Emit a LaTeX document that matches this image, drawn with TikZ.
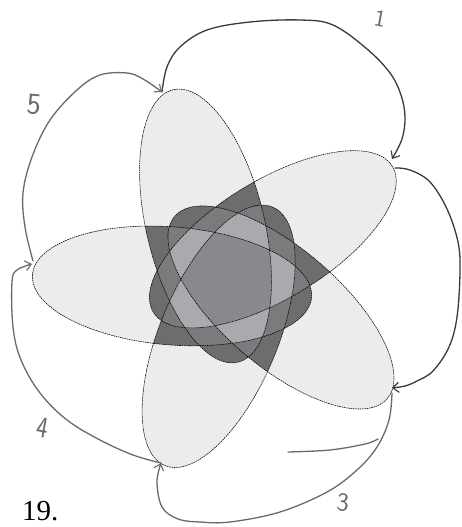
\documentclass[tikz,border=0pt]{standalone}
\usepackage{fontspec}
\setmainfont{Liberation Serif}
\usetikzlibrary{arrows.meta}
\definecolor{cA}{HTML}{ECECEC}
\definecolor{cB}{HTML}{6D6D6D}
\definecolor{cC}{HTML}{7B7B7D}
\definecolor{cD}{HTML}{A9AAAE}
\definecolor{cE}{HTML}{88898C}
\definecolor{penA}{HTML}{3A3A3A}
\definecolor{penB}{HTML}{6A6A6A}
\def\Ra{0}\def\Rb{-72}\def\Rc{-144}\def\Rd{-216}\def\Re{-288}
\newcommand\Eclip[1]{\clip[rotate around={#1:(230,248)}, xshift=205.5pt, yshift=301pt, rotate=103.4] (0,0) ellipse [x radius=140, y radius=59];}
\newcommand\Edraw[1]{\draw[ellline, rotate around={#1:(230,248)}, xshift=205.5pt, yshift=301pt, rotate=103.4] (0,0) ellipse [x radius=140, y radius=59];}
\newcommand\Rg[2]{\begin{scope}#2\fill[#1] (0,0) rectangle (461,527);\end{scope}}
\begin{document}
\begin{tikzpicture}[x=1pt,y=1pt,
  ellline/.style={black, line width=0.55pt, dash pattern=on 1.6pt off 0.7pt},
  arrline/.style={line width=1.3pt, line cap=round, -{Straight Barb[length=6pt,width=10pt,line width=1.1pt]}},
  hand/.style={font=\sffamily\fontsize{30}{30}\selectfont, text=penB, inner sep=0pt}]
\useasboundingbox (0,0) rectangle (461,527);
\fill[white] (0,0) rectangle (461,527);
% shading by number of ellipses
\Rg{cA}{\Eclip\Ra}\Rg{cA}{\Eclip\Rb}\Rg{cA}{\Eclip\Rc}\Rg{cA}{\Eclip\Rd}\Rg{cA}{\Eclip\Re}
\Rg{cB}{\Eclip\Ra\Eclip\Rb}\Rg{cB}{\Eclip\Ra\Eclip\Rc}\Rg{cB}{\Eclip\Ra\Eclip\Rd}\Rg{cB}{\Eclip\Ra\Eclip\Re}
\Rg{cB}{\Eclip\Rb\Eclip\Rc}\Rg{cB}{\Eclip\Rb\Eclip\Rd}\Rg{cB}{\Eclip\Rb\Eclip\Re}
\Rg{cB}{\Eclip\Rc\Eclip\Rd}\Rg{cB}{\Eclip\Rc\Eclip\Re}\Rg{cB}{\Eclip\Rd\Eclip\Re}
\Rg{cC}{\Eclip\Ra\Eclip\Rb\Eclip\Rc}\Rg{cC}{\Eclip\Ra\Eclip\Rb\Eclip\Rd}\Rg{cC}{\Eclip\Ra\Eclip\Rb\Eclip\Re}
\Rg{cC}{\Eclip\Ra\Eclip\Rc\Eclip\Rd}\Rg{cC}{\Eclip\Ra\Eclip\Rc\Eclip\Re}\Rg{cC}{\Eclip\Ra\Eclip\Rd\Eclip\Re}
\Rg{cC}{\Eclip\Rb\Eclip\Rc\Eclip\Rd}\Rg{cC}{\Eclip\Rb\Eclip\Rc\Eclip\Re}\Rg{cC}{\Eclip\Rb\Eclip\Rd\Eclip\Re}
\Rg{cC}{\Eclip\Rc\Eclip\Rd\Eclip\Re}
\Rg{cD}{\Eclip\Ra\Eclip\Rb\Eclip\Rc\Eclip\Rd}\Rg{cD}{\Eclip\Ra\Eclip\Rb\Eclip\Rc\Eclip\Re}
\Rg{cD}{\Eclip\Ra\Eclip\Rb\Eclip\Rd\Eclip\Re}\Rg{cD}{\Eclip\Ra\Eclip\Rc\Eclip\Rd\Eclip\Re}
\Rg{cD}{\Eclip\Rb\Eclip\Rc\Eclip\Rd\Eclip\Re}
\Rg{cE}{\Eclip\Ra\Eclip\Rb\Eclip\Rc\Eclip\Rd\Eclip\Re}
% outlines
\Edraw\Ra \Edraw\Rb \Edraw\Rc \Edraw\Rd \Edraw\Re
% tips
\coordinate (tT) at (162,435);
\coordinate (tR) at (392,368);
\coordinate (tRs) at (395,359);
\coordinate (tLR) at (392,139);
\coordinate (tLRs) at (392,134);
\coordinate (tB) at (161,64);
\coordinate (tL) at (32,263);
\coordinate (tLs) at (33,266);
\coordinate (x3) at (288,75);
\coordinate (j3) at (378,88);
% arrows
\draw[arrline, penA] plot[smooth, tension=0.6] coordinates {(tT) (167,460) (180,480) (207,497) (250,505) (300,507) (333,502) (367,478) (390,454) (401,432) (405,410) (402,388) (tR)};
\draw[arrline, penA] plot[smooth, tension=0.6] coordinates {(tRs) (410,357) (430,345) (447,318) (458,285) (460,255) (457,210) (449,180) (433,156) (417,146) (405,141) (tLR)};
\draw[arrline, penB] plot[smooth, tension=0.6] coordinates {(tLRs) (389,107) (377,80) (357,57) (327,35) (280,15) (230,5) (200,5) (178,8) (162,20) (157,45) (tB)};
\draw[arrline, penB] plot[smooth, tension=0.6] coordinates {(tB) (133,72) (100,87) (67,107) (40,134) (21,167) (13,200) (12,245) (17,257) (tL)};
\draw[arrline, penB] plot[smooth, tension=0.6] coordinates {(tLs) (25,300) (23,334) (32,370) (50,407) (77,437) (100,452) (127,454) (143,448) (tT)};
\draw[line width=1.3pt, line cap=round, penB] plot[smooth, tension=0.6] coordinates {(x3) (330,77) (365,83) (j3)};
% labels
\node[hand, rotate=-10, font=\sffamily\fontsize{24}{24}\selectfont] (n1) at (380,508) {1};
\node[hand, rotate=-5] (n5) at (34,422) {5};
\node[hand, rotate=-10, xscale=0.8] (n4) at (43,99) {4};
\node[hand, rotate=-5, font=\sffamily\fontsize{26}{26}\selectfont] (n3) at (343,24) {3};
\node[anchor=base west, inner sep=0pt, font=\fontsize{29}{30}\selectfont] (num) at (22,6) {19.};
\end{tikzpicture}
\end{document}
